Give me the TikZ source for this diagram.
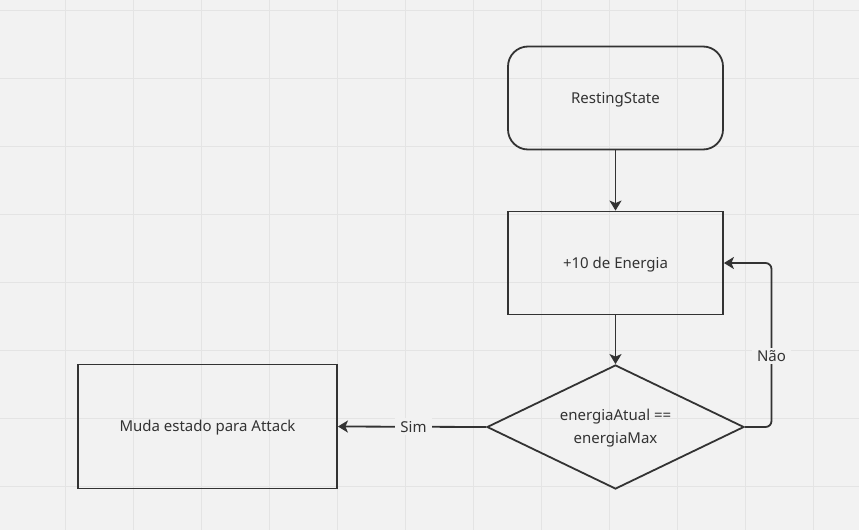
\documentclass[tikz,border=0pt]{standalone}
\usepackage{fontspec}
\setmainfont{Noto Sans}
\usetikzlibrary{shapes.geometric,arrows.meta}
\definecolor{bg}{HTML}{F2F2F2}
\definecolor{gridc}{HTML}{E4E4E4}
\definecolor{ink}{HTML}{333333}
\begin{document}
\begin{tikzpicture}[x=1pt,y=-1pt,
  every node/.style={font=\fontsize{15}{23}\selectfont, text=ink},
  box/.style={draw=ink, line width=1.8pt, rectangle, inner sep=0pt, text height=10.7pt, text depth=0pt},
  conn/.style={draw=ink, line width=1.8pt, -{Stealth[length=10pt,width=12pt,inset=2.5pt]}},
  lbl/.style={fill=bg, inner xsep=5pt, inner ysep=3pt, text height=10.7pt, text depth=0pt}]
\fill[bg] (0,0) rectangle (859,530);
\useasboundingbox (0,0) rectangle (859,530);
\foreach \x in {65.5,133.5,...,860} \draw[gridc, line width=1.3pt] (\x,0) -- (\x,530);
\foreach \y in {10.5,78.5,...,531} \draw[gridc, line width=1.3pt] (0,\y) -- (859,\y);
\node[box, rounded corners=20pt, minimum width=215pt, minimum height=103pt] (rest) at (615.5,98) {RestingState};
\node[box, minimum width=215pt, minimum height=103pt] (energy) at (615.5,263) {+10 de Energia};
\node[diamond, draw=ink, line width=1.8pt, inner sep=0pt, minimum width=257pt, minimum height=124pt] (dec) at (615.5,427) {};
\node[align=center] (dectext) at (615.5,428.5) {energiaAtual ==\\energiaMax};
\node[box, minimum width=259pt, minimum height=124pt] (attack) at (207.5,426.5) {Muda estado para Attack};
\coordinate (nao) at (771.5,356);
\draw[conn] (rest) -- (energy);
\draw[conn] (energy) -- (dec);
\draw[conn] (dec.west) -- node[lbl, pos=0.49] {Sim} (attack.east);
\draw[conn, rounded corners=6pt] (dec.east) -| (nao) |- (energy.east);
\node[lbl] (naolbl) at (nao) {Não};
\end{tikzpicture}
\end{document}
